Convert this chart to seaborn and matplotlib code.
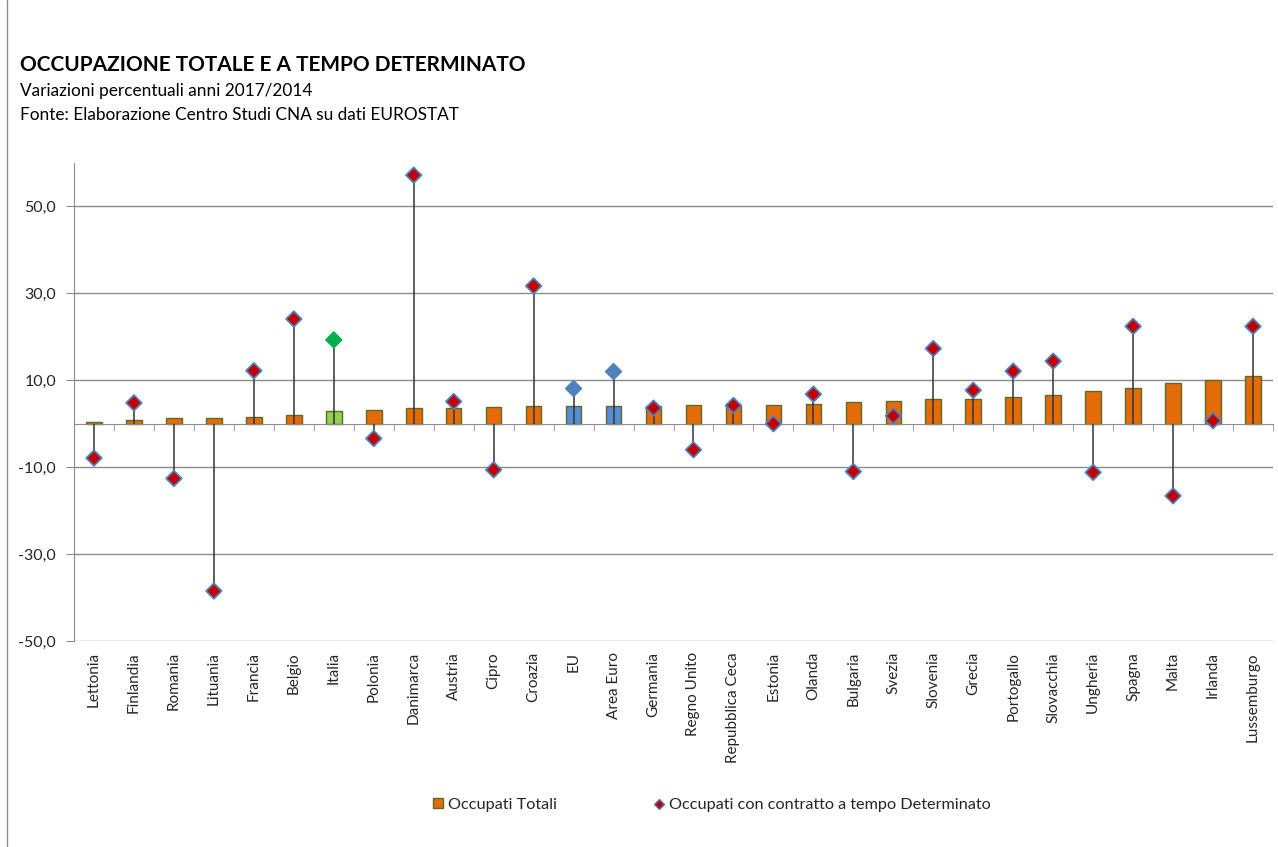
import numpy as np
import pandas as pd
import seaborn as sns
import matplotlib.pyplot as plt
from matplotlib.patches import Patch
from matplotlib.lines import Line2D

# Data (variazioni % 2017/2014)
paesi = ['Lettonia', 'Finlandia', 'Romania', 'Lituania', 'Francia', 'Belgio', 'Italia',
         'Polonia', 'Danimarca', 'Austria', 'Cipro', 'Croazia', 'EU', 'Area Euro',
         'Germania', 'Regno Unito', 'Repubblica Ceca', 'Estonia', 'Olanda', 'Bulgaria',
         'Svezia', 'Slovenia', 'Grecia', 'Portogallo', 'Slovacchia', 'Ungheria',
         'Spagna', 'Malta', 'Irlanda', 'Lussemburgo']
totali = [0.4, 0.8, 1.4, 1.4, 1.6, 2.0, 2.9, 3.1, 3.7, 3.7, 3.8, 4.1, 4.1, 4.1,
          4.1, 4.3, 4.3, 4.3, 4.5, 5.0, 5.2, 5.8, 5.8, 6.2, 6.6, 7.6, 8.3, 9.4,
          10.0, 11.0]
determinato = [-7.9, 4.8, -12.6, -38.5, 12.2, 24.1, 19.3, -3.4, 57.2, 5.1, -10.6,
               31.7, 8.1, 12.0, 3.6, -6.0, 4.2, 0.0, 6.8, -11.0, 1.8, 17.3, 7.7,
               12.1, 14.4, -11.2, 22.4, -16.6, 0.7, 22.4]
yticks = [-50, -30, -10, 10, 30, 50]

df = pd.DataFrame({'Paese': paesi, 'Totali': totali, 'Determinato': determinato})

# colours
orange, olive = '#E36C09', '#5E6A2A'
bar_pal = {p: orange for p in paesi}
bar_pal['Italia'] = '#92D050'
bar_pal['EU'] = '#558ED5'
bar_pal['Area Euro'] = '#558ED5'
mk_face = {p: '#C00000' for p in paesi}
mk_edge = {p: '#4F81BD' for p in paesi}
mk_face['Italia'] = mk_edge['Italia'] = '#00B050'
mk_face['EU'] = mk_face['Area Euro'] = '#4F81BD'

sns.set_style('white')
plt.rcParams['font.family'] = ['Lato', 'DejaVu Sans']

fig = plt.figure(figsize=(12.78, 8.47), dpi=100)
ax = fig.add_axes([74 / 1278, 1 - 641 / 847, 1199 / 1278, 478 / 847])

sns.barplot(data=df, x='Paese', y='Totali', hue='Paese', palette=bar_pal, order=paesi,
            hue_order=paesi, legend=False, width=0.39, edgecolor=olive, linewidth=1,
            saturation=1, ax=ax, zorder=2)

x = np.arange(len(paesi))
ax.vlines(x, 0, df['Determinato'], color='#333333', lw=1.1, zorder=3)
ax.scatter(x, df['Determinato'], marker='D', s=62,
           facecolors=[mk_face[p] for p in paesi],
           edgecolors=[mk_edge[p] for p in paesi], linewidths=1.3, zorder=4)

ax.set_xlim(-0.5, len(paesi) - 0.5)
ax.set_ylim(-50, 60)
ax.set_xlabel('')
ax.set_ylabel('')

# y axis
ax.set_yticks(yticks)
ax.set_yticklabels([f'{v:.1f}'.replace('.', ',') for v in yticks], fontsize=11.5, color='#262626')
ax.grid(axis='y', color='#8c8c8c', lw=1, zorder=0)
ax.grid(axis='x', visible=False)
ax.tick_params(axis='y', length=6, color='#8c8c8c', pad=7, left=True)
ax.spines['left'].set_color('#8c8c8c')
ax.spines['top'].set_visible(False)
ax.spines['right'].set_visible(False)

# x axis through zero with ticks at category boundaries
ax.spines['bottom'].set_position(('data', 0))
ax.spines['bottom'].set_color('#8c8c8c')
ax.set_xticks(np.arange(len(paesi) + 1) - 0.5)
ax.set_xticklabels([])
ax.tick_params(axis='x', length=5, color='#a6a6a6', bottom=True, direction='out')

# category labels at the bottom of the plot
sec = ax.secondary_xaxis(0)
sec.set_xticks(x)
sec.set_xticklabels(paesi, rotation=90, fontsize=11, color='#262626')
sec.tick_params(length=0, pad=8)
sec.spines['bottom'].set_visible(False)

# titles
fig.text(20 / 1278, 1 - 71 / 847, 'OCCUPAZIONE TOTALE E A TEMPO DETERMINATO',
         fontsize=15, fontweight='bold', color='black')
fig.text(20 / 1278, 1 - 96 / 847, 'Variazioni percentuali anni 2017/2014', fontsize=12.4, color='black')
fig.text(20 / 1278, 1 - 120 / 847, 'Fonte: Elaborazione Centro Studi CNA su dati EUROSTAT',
         fontsize=12.4, color='black')

# legend
handles = [Patch(facecolor=orange, edgecolor=olive, lw=1),
           Line2D([], [], ls='none', marker='D', ms=5.5, markerfacecolor='#C00000',
                  markeredgecolor='#4F81BD')]
fig.legend(handles, ['Occupati Totali', 'Occupati con contratto a tempo Determinato'],
           loc='center', bbox_to_anchor=(712 / 1278, 1 - 805 / 847), ncol=2, frameon=False,
           fontsize=11.7, handlelength=0.6, handleheight=0.6, handletextpad=0.3,
           columnspacing=6.0)

# chart frame edge
fig.add_artist(Line2D([7 / 1278, 7 / 1278], [0, 1], color='#8c8c8c', lw=1))

plt.savefig('out.png', dpi=100)
plt.close()
